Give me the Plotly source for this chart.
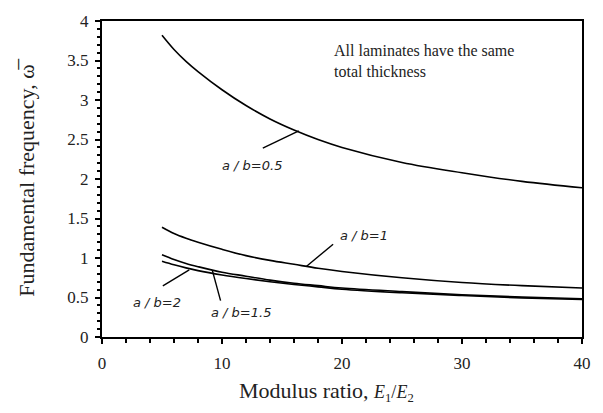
import plotly.graph_objects as go

# Data
modulus_ratio = [5, 6, 7, 8, 10, 12, 14, 16, 18, 20, 25, 30, 35, 40]
freq_ab_05 = [3.82, 3.64, 3.49, 3.36, 3.13, 2.93, 2.76, 2.62, 2.50, 2.40, 2.21, 2.08, 1.97, 1.89]
freq_ab_1 = [1.39, 1.31, 1.25, 1.20, 1.11, 1.03, 0.97, 0.92, 0.87, 0.83, 0.75, 0.69, 0.65, 0.62]
freq_ab_15 = [1.04, 0.98, 0.93, 0.89, 0.82, 0.77, 0.72, 0.68, 0.65, 0.62, 0.575, 0.535, 0.505, 0.485]
freq_ab_2 = [0.96, 0.915, 0.875, 0.84, 0.785, 0.74, 0.70, 0.665, 0.635, 0.605, 0.56, 0.525, 0.495, 0.475]

series = [
    ("a/b=0.5", freq_ab_05),
    ("a/b=1", freq_ab_1),
    ("a/b=1.5", freq_ab_15),
    ("a/b=2", freq_ab_2),
]

# label text position and leader line (tail -> curve) in data units
labels = {
    "a/b=0.5": dict(tx=12.5, ty=2.17, line=(13.4, 2.39, 16.4, 2.61)),
    "a/b=1": dict(tx=21.8, ty=1.29, line=(17.05, 0.895, 19.26, 1.175)),
    "a/b=1.5": dict(tx=11.6, ty=0.31, line=(9.88, 0.46, 9.2, 0.84)),
    "a/b=2": dict(tx=4.6, ty=0.44, line=(5.07, 0.646, 7.27, 0.85)),
}

FONT = "Liberation Serif"

fig = go.Figure()
for name, vals in series:
    fig.add_trace(go.Scatter(
        x=modulus_ratio, y=vals, mode="lines", name=name,
        line=dict(color="black", width=1.6, shape="spline", smoothing=1.0),
        showlegend=False,
    ))

for name, spec in labels.items():
    x0, y0, x1, y1 = spec["line"]
    fig.add_shape(type="line", x0=x0, y0=y0, x1=x1, y1=y1, xref="x", yref="y",
                  line=dict(color="black", width=1.4))
    fig.add_annotation(
        x=spec["tx"], y=spec["ty"], xref="x", yref="y", showarrow=False,
        text="<i>" + name.replace("/", " / ") + "</i>",
        font=dict(family="DejaVu Sans", size=13, color="#222"),
    )

fig.add_annotation(
    x=19.2, y=3.49, xref="x", yref="y", xanchor="left", yanchor="middle",
    showarrow=False, align="left",
    text="All laminates have the same<br>total thickness",
    font=dict(family=FONT, size=16, color="#222"),
)

# axis titles
fig.add_annotation(
    x=0.467, y=-0.171, xref="paper", yref="paper", xanchor="center", yanchor="middle",
    showarrow=False,
    text="Modulus ratio, <span style='font-size:18px'><i>E</i><sub>1</sub>/<i>E</i><sub>2</sub></span>",
    font=dict(family=FONT, size=22, color="#222"),
)
fig.add_annotation(
    x=-0.159, y=0.503, xref="paper", yref="paper", xanchor="center", yanchor="middle",
    showarrow=False, textangle=-90,
    text="Fundamental frequency, \u03c9\u0305",
    font=dict(family=FONT, size=22, color="#222"),
)

fig.update_layout(
    width=603, height=413,
    margin=dict(l=102, r=17, t=15, b=76),
    paper_bgcolor="white", plot_bgcolor="white",
    font=dict(family=FONT, size=17, color="#222"),
    xaxis=dict(
        range=[0, 40], tickvals=[0, 10, 20, 30, 40],
        tickfont=dict(family=FONT, size=17, color="#222"),
        ticks="outside", ticklen=5, tickwidth=1.5, tickcolor="black",
        minor=dict(dtick=2, ticks="outside", ticklen=4, tickwidth=1.5, tickcolor="black"),
        showline=True, linewidth=2, linecolor="black", mirror=True,
        showgrid=False, zeroline=False, ticklabelstandoff=5,
    ),
    yaxis=dict(
        range=[0, 4], dtick=0.5,
        tickfont=dict(family=FONT, size=17, color="#222"),
        ticks="outside", ticklen=5, tickwidth=1.5, tickcolor="black",
        minor=dict(dtick=0.1, ticks="outside", ticklen=3, tickwidth=1.5, tickcolor="black"),
        showline=True, linewidth=2, linecolor="black", mirror=True,
        showgrid=False, zeroline=False, ticklabelstandoff=3,
    ),
)

fig.write_html("out.html")
